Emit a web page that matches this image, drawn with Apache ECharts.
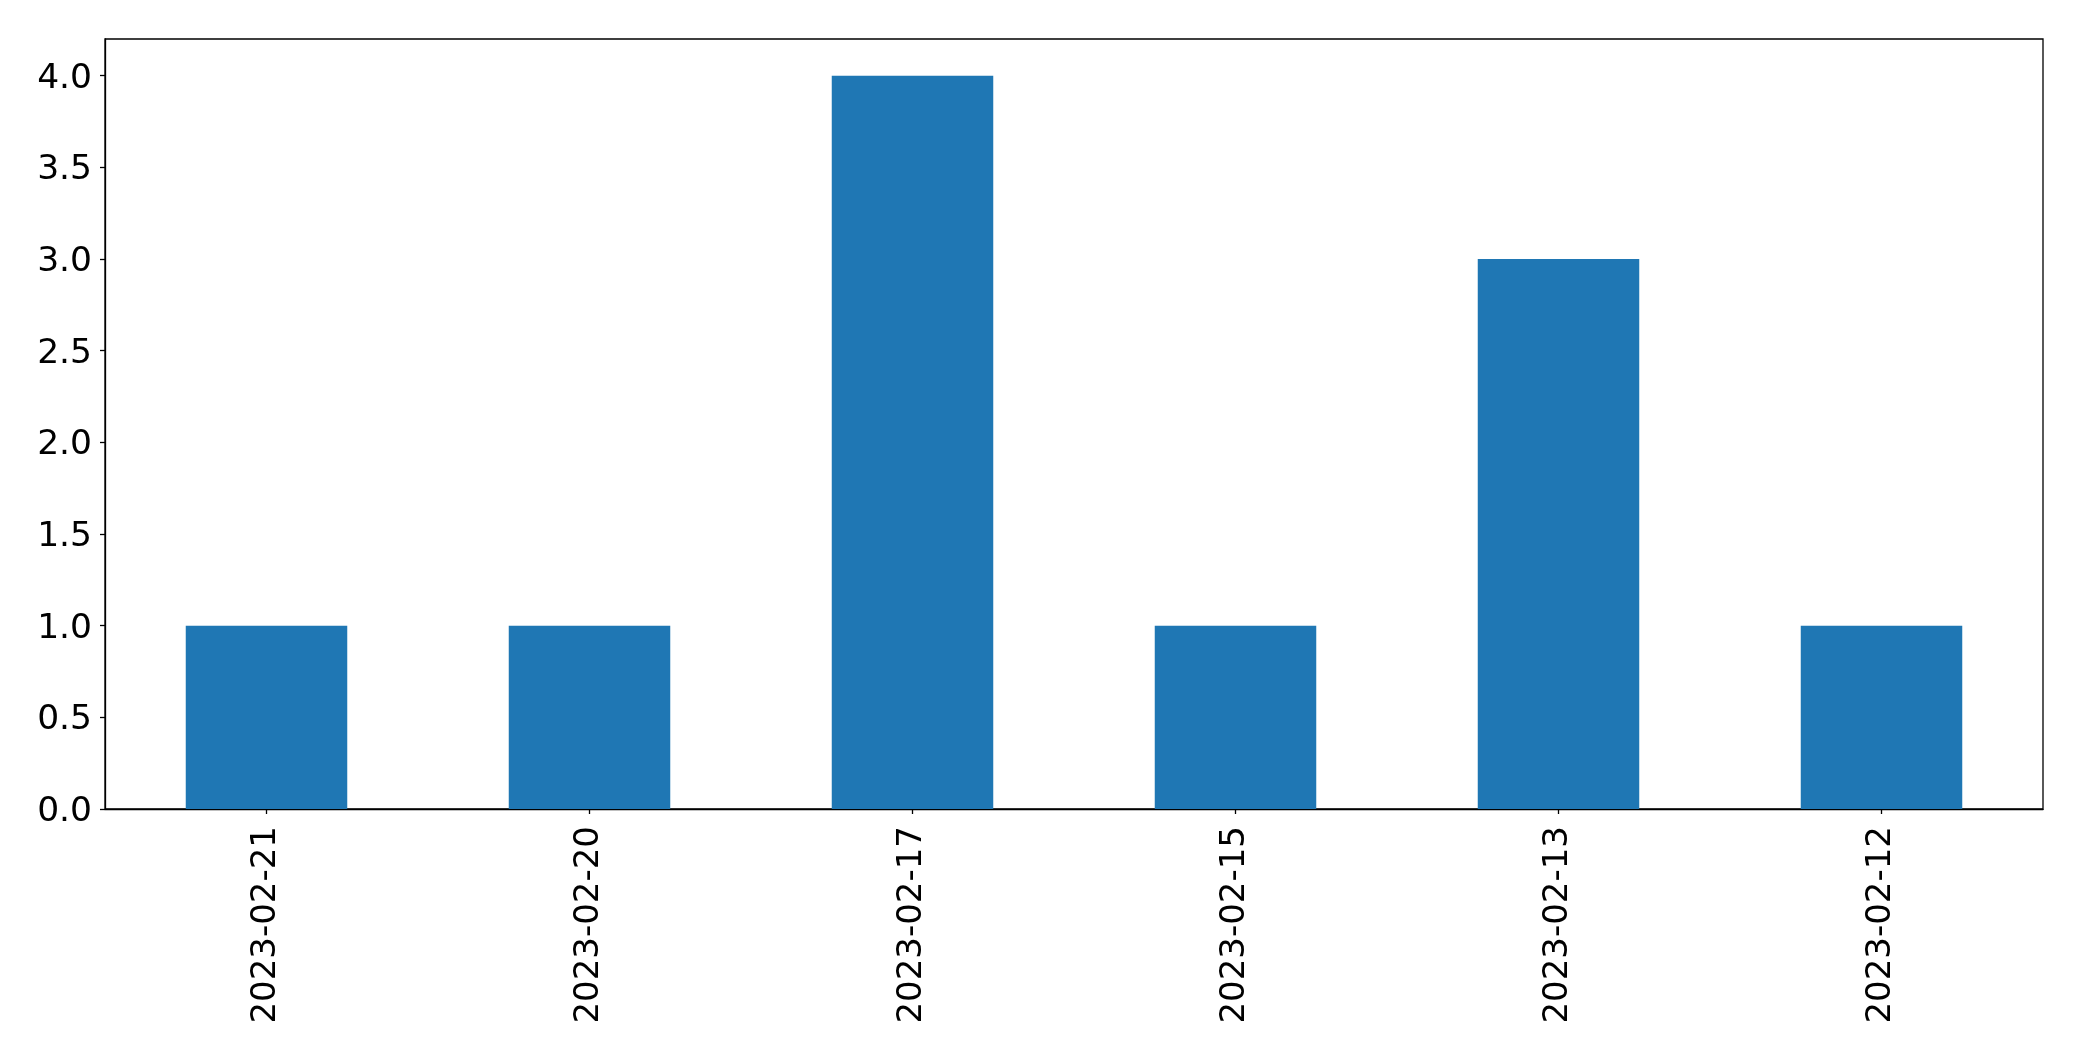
<!DOCTYPE html>
<html>
<head>
<meta charset="utf-8">
<script src="https://cdn.jsdelivr.net/npm/echarts@6/dist/echarts.min.js"></script>
<style>
html,body{margin:0;padding:0;background:#fff;}
#chart{width:2082px;height:1061px;}
</style>
</head>
<body>
<div id="chart"></div>
<script>
const categories = ['2023-02-21','2023-02-20','2023-02-17','2023-02-15','2023-02-13','2023-02-12'];
const values = [1, 1, 4, 1, 3, 1];
const yTicks = [0, 0.5, 1, 1.5, 2, 2.5, 3, 3.5, 4];

const chart = echarts.init(document.getElementById('chart'), null, {renderer: 'canvas'});
const font = 'DejaVu Sans';
chart.setOption({
  animation: false,
  backgroundColor: '#fff',
  grid: {left: 105, right: 39, top: 39, bottom: 252, show: true, borderColor: '#000', borderWidth: 1.3, containLabel: false},
  xAxis: {
    type: 'category',
    data: categories,
    axisLine: {show: true, lineStyle: {color: '#000', width: 1.3}},
    axisTick: {show: true, alignWithLabel: true, length: 5, lineStyle: {color: '#000', width: 1.3}},
    axisLabel: {rotate: 90, margin: 17, color: '#000', fontFamily: font, fontSize: 34, interval: 0},
    splitLine: {show: false}
  },
  yAxis: {
    type: 'value',
    min: 0,
    max: 4.2,
    interval: 0.5,
    axisLine: {show: true, lineStyle: {color: '#000', width: 1.3}},
    axisTick: {show: true, length: 5, lineStyle: {color: '#000', width: 1.3}, customValues: yTicks},
    axisLabel: {margin: 13, color: '#000', fontFamily: font, fontSize: 34.5, customValues: yTicks,
      formatter: v => '{a|' + v.toFixed(1) + '}',
      rich: {a: {fontFamily: font, fontSize: 34.5, color: '#000', padding: [6, 0, 0, 0]}}},
    splitLine: {show: false}
  },
  series: [{
    type: 'bar',
    data: values,
    barWidth: '50%',
    itemStyle: {color: '#1f77b4'}
  }]
});
</script>
</body>
</html>
